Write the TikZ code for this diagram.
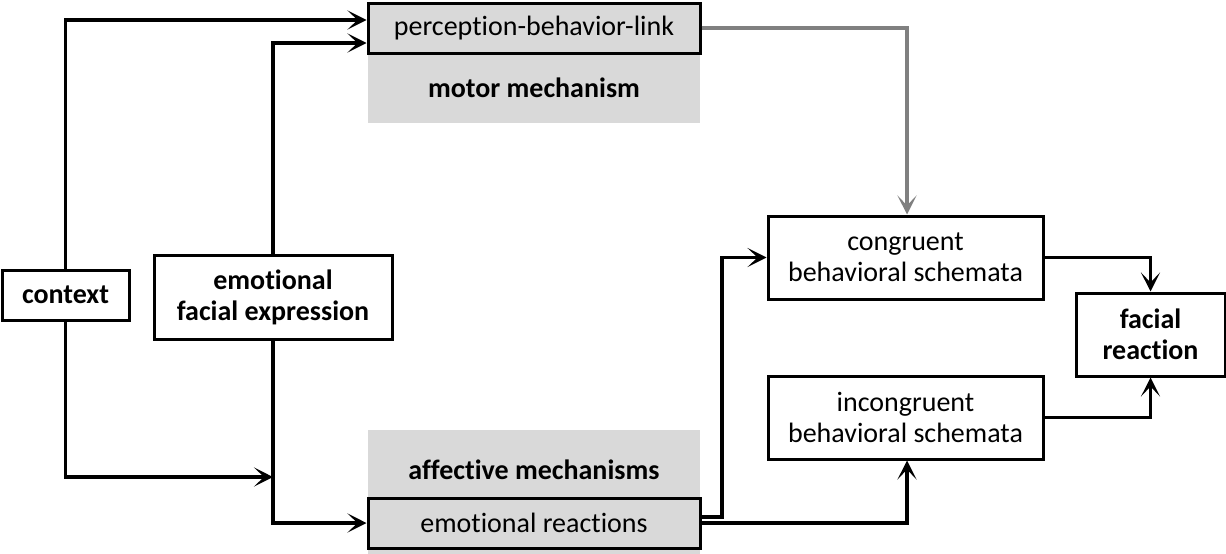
\documentclass[tikz,border=0pt]{standalone}
\usepackage{fontspec}
\setmainfont{Carlito}[Ligatures=NoCommon]
\usetikzlibrary{arrows.meta,positioning}
\definecolor{boxgray}{RGB}{217,217,217}
\definecolor{linkgray}{RGB}{128,128,128}
\tikzset{
  box/.style={draw=black, line width=3pt, fill=white, inner sep=0pt, align=center,
     font=\fontsize{28}{31}\selectfont},
  graybox/.style={box, fill=boxgray},
  boldbox/.style={box, font=\fontsize{28}{31}\selectfont\bfseries},
  lbl/.style={inner sep=0pt, align=center, font=\fontsize{28}{31}\selectfont\bfseries},
  conn/.style={line width=3.5pt, -{Stealth[length=19pt,width=19pt,inset=10pt]}, line join=miter},
  gconn/.style={conn, draw=linkgray, -{Stealth[length=19pt,width=19pt,inset=10pt,color=linkgray]}},
}
\begin{document}
\begin{tikzpicture}[x=1pt,y=-1pt]
\useasboundingbox (0,0) rectangle (1226,554);
% gray backgrounds
\fill[boxgray] (368,3) rectangle (700,123);
\fill[boxgray] (368,430) rectangle (700,554);
% nodes
\node[boldbox, minimum width=127pt, minimum height=50pt] (context) at (65.5,295) {context};
\node[boldbox, minimum width=238pt, minimum height=84pt] (efe) at (273,297) {emotional\\facial expression};
\node[graybox, minimum width=332pt, minimum height=50pt] (pbl) at (534,28) {perception-behavior-link};
\node[lbl] (motor) at (534,88) {motor mechanism};
\node[lbl] (aff) at (534,470) {affective mechanisms};
\node[graybox, minimum width=332pt, minimum height=50pt] (emo) at (534,523) {emotional reactions};
\node[box, minimum width=275pt, minimum height=83pt] (cong) at (905.5,257.5) {congruent\\behavioral schemata};
\node[box, minimum width=275pt, minimum height=83pt] (incong) at (905.5,417.5) {incongruent\\behavioral schemata};
\node[boldbox, minimum width=149pt, minimum height=83pt] (facial) at (1150.5,334.5) {facial\\reaction};
% junction coordinate
\coordinate (j) at (273,477);
% connectors
\draw[conn] (context.north) |- (pbl.west |- 0,20);
\draw[conn] (efe.north) |- (pbl.west |- 0,43);
\draw[conn] (context.south) |- (j);
\draw[conn, -] (efe.south) -- (j);
\draw[conn] (j) |- (emo.west);
\draw[gconn] (pbl.east) -| (cong.north -| 907,0);
\draw[conn] (emo.east |- 0,517) -| (722,257.5) -- (cong.west);
\draw[conn] (emo.east |- 0,523) -| (incong.south -| 907,0);
\draw[conn] (cong.east) -| (facial.north);
\draw[conn] (incong.east) -| (facial.south);
\end{tikzpicture}
\end{document}
